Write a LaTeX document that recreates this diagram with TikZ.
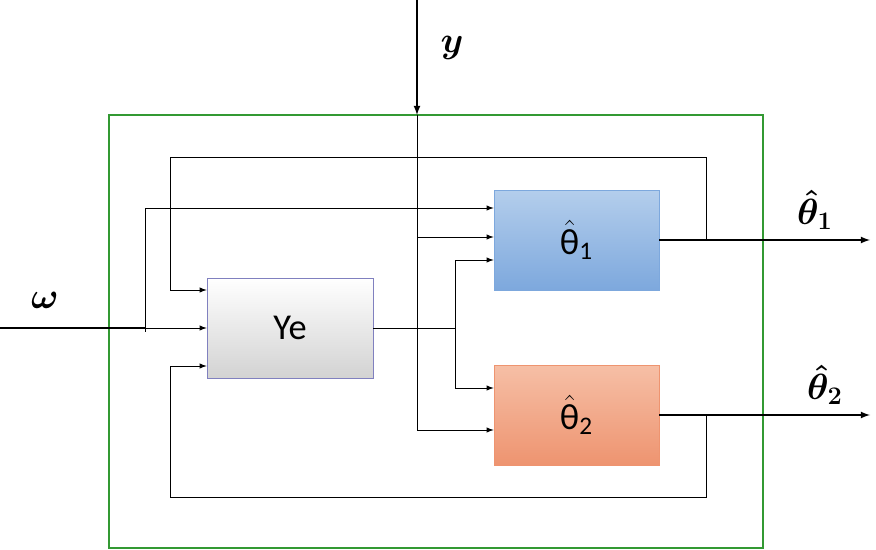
\documentclass[tikz,border=0pt]{standalone}
\usepackage{amsmath}
\usepackage{fontspec}
\setmainfont{Carlito}
\usetikzlibrary{positioning}
\definecolor{bluetop}{HTML}{B4CEEC}
\definecolor{bluebot}{HTML}{7DA8DD}
\definecolor{orgtop}{HTML}{F6BFA6}
\definecolor{orgbot}{HTML}{EE9470}
\tikzset{
  blk/.style={draw=#1, minimum width=3.3cm, minimum height=2cm, inner sep=0pt, font=\huge},
  sig/.style={-latex, thin},
  outsig/.style={-latex, thick},
}
\begin{document}
\begin{tikzpicture}[x=0.02cm,y=-0.02cm]
        \useasboundingbox (0,0) rectangle (876,550);
        \draw [green!50!black!80, line width=1.2pt] (109,115) rectangle (763,548);
        \node [blk=blue!50!black!50, top color=white, bottom color=gray!35, minimum width=3.32cm] (ye) at (290,328) {Ye};
        \node [blk=bluebot, top color=bluetop, bottom color=bluebot] (th1) at (576.5,240) {$\hat{\text{θ}}_{\text{1}}$};
        \node [blk=orgbot, top color=orgtop, bottom color=orgbot] (th2) at (576.5,415) {$\hat{\text{θ}}_{\text{2}}$};
        \coordinate (win) at (0,328);
        \coordinate (ytop) at (417,0);
        \coordinate (ybox) at (417,115);
        \coordinate (o1) at (870,240);
        \coordinate (o2) at (870,415);
        \node at (45,300) {\huge$\boldsymbol{\omega}$};
        \node at (452,48) {\huge$\boldsymbol{y}$};
        \node at (815,210) {\huge$\boldsymbol{\hat{\theta}_1}$};
        \node at (825,385) {\huge$\boldsymbol{\hat{\theta}_2}$};
        % inputs
        \draw [thick] (win) -- (145,328);
        \draw [sig] (145,328) -- (ye.west |- 0,328);
        \draw [sig] (145,332) -- (145,208) -- (th1.west |- 0,208);
        \draw [outsig] (ytop) -- (ybox);
        \draw [sig] (ybox) -- (417,430) -- (th2.west |- 0,430);
        \draw [sig] (417,237) -- (th1.west |- 0,237);
        % Ye output
        \draw (ye.east) -- (455,328);
        \draw [sig] (455,328) -- (455,260) -- (th1.west |- 0,260);
        \draw [sig] (455,328) -- (455,388) -- (th2.west |- 0,388);
        % outputs and feedback
        \draw [outsig] (th1.east) -- (o1);
        \draw [outsig] (th2.east |- o2) -- (o2);
        \draw [sig] (706,240) -- (706,157) -- (170,157) -- (170,290) -- (ye.west |- 0,290);
        \draw [sig] (706,415) -- (706,497) -- (170,497) -- (170,366) -- (ye.west |- 0,366);
\end{tikzpicture}
\end{document}
